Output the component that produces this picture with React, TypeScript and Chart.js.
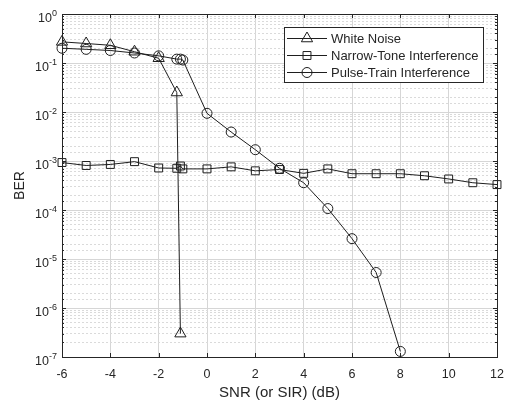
import React, { useEffect, useRef } from 'react';
import { Chart, registerables } from 'chart.js';
Chart.register(...registerables);

const seriesLabels = ['White Noise', 'Narrow-Tone Interference', 'Pulse-Train Interference'];
const snrWhite = [-6, -5, -4, -3, -2, -1.25, -1.1];
const berWhite = [0.27, 0.25, 0.23, 0.17, 0.125, 0.025, 3e-7];
const snrTone = [-6, -5, -4, -3, -2, -1.25, -1.1, -1, 0, 1, 2, 3, 4, 5, 6, 7, 8, 9, 10, 11, 12];
const berTone = [9.3e-4, 8.1e-4, 8.5e-4, 9.7e-4, 7.2e-4, 7.1e-4, 7.9e-4, 6.9e-4, 6.9e-4, 7.6e-4, 6.3e-4, 6.7e-4, 5.6e-4, 6.9e-4, 5.5e-4, 5.5e-4, 5.5e-4, 5.0e-4, 4.3e-4, 3.6e-4, 3.3e-4];
const snrPulse = [-6, -5, -4, -3, -2, -1.25, -1.1, -1, 0, 1, 2, 3, 4, 5, 6, 7, 8];
const berPulse = [0.2, 0.19, 0.18, 0.16, 0.14, 0.12, 0.12, 0.115, 0.0094, 0.0039, 0.0017, 7.1e-4, 3.6e-4, 1.07e-4, 2.6e-5, 5.3e-6, 1.3e-7];
const xTickStep = 2;
const xMin = -6;
const xMax = 12;
const yMin = 1e-7;
const yMax = 1;

const INK = '#262626';
const LINE = '#1e1e1e';
const FONT = '"Liberation Sans", Arial, sans-serif';

const isDecade = (v: number) => {
  const e = Math.log10(v);
  return Math.abs(e - Math.round(e)) < 1e-6;
};

function drawMarker(ctx: CanvasRenderingContext2D, style: string, x: number, y: number, r: number) {
  ctx.beginPath();
  if (style === 'triangle') {
    const w = r * Math.sqrt(3) / 2;
    ctx.moveTo(x, y - r);
    ctx.lineTo(x + w, y + r / 2);
    ctx.lineTo(x - w, y + r / 2);
    ctx.closePath();
  } else if (style === 'rect') {
    const s = r * Math.SQRT1_2;
    ctx.rect(x - s, y - s, 2 * s, 2 * s);
  } else {
    ctx.arc(x, y, r, 0, Math.PI * 2);
  }
  ctx.stroke();
}

const frameTicksPlugin = {
  id: 'frameTicks',
  afterDatasetsDraw(chart: any) {
    const { ctx, chartArea: a } = chart;
    const xs = chart.scales.x;
    const ys = chart.scales.y;
    ctx.save();
    ctx.strokeStyle = INK;
    ctx.lineWidth = 1;
    ctx.beginPath();
    xs.ticks.forEach((t: any) => {
      const px = Math.round(xs.getPixelForValue(t.value)) + 0.5;
      ctx.moveTo(px, a.bottom);
      ctx.lineTo(px, a.bottom - 4);
      ctx.moveTo(px, a.top);
      ctx.lineTo(px, a.top + 4);
    });
    ys.ticks.forEach((t: any) => {
      const py = Math.round(ys.getPixelForValue(t.value)) + 0.5;
      const len = isDecade(t.value) ? 4 : 2;
      ctx.moveTo(a.left, py);
      ctx.lineTo(a.left + len, py);
      ctx.moveTo(a.right, py);
      ctx.lineTo(a.right - len, py);
    });
    ctx.stroke();
    ctx.strokeRect(Math.round(a.left) + 0.5, Math.round(a.top) + 0.5, Math.round(a.right - a.left), Math.round(a.bottom - a.top));
    ctx.restore();
  },
};

const powerLabelsPlugin = {
  id: 'powerLabels',
  afterDraw(chart: any) {
    const { ctx } = chart;
    const ys = chart.scales.y;
    const right = ys.right - 5;
    ctx.save();
    ctx.fillStyle = INK;
    ctx.textBaseline = 'alphabetic';
    ctx.textAlign = 'left';
    ys.ticks.forEach((t: any) => {
      if (!isDecade(t.value)) return;
      const py = ys.getPixelForValue(t.value);
      const exp = String(Math.round(Math.log10(t.value)));
      ctx.font = `12.5px ${FONT}`;
      const wBase = ctx.measureText('10').width;
      ctx.font = `9px ${FONT}`;
      const wExp = ctx.measureText(exp).width;
      const x0 = right - wBase - wExp;
      ctx.font = `12.5px ${FONT}`;
      ctx.fillText('10', x0, py + 8);
      ctx.font = `9px ${FONT}`;
      ctx.fillText(exp, x0 + wBase, py + 1.5);
    });
    ctx.restore();
  },
};

const legendPlugin = {
  id: 'insideLegend',
  afterDraw(chart: any) {
    const { ctx } = chart;
    const bx = 284.5, by = 27.5, bw = 199, bh = 55;
    ctx.save();
    ctx.fillStyle = '#ffffff';
    ctx.fillRect(bx, by, bw, bh);
    ctx.strokeStyle = INK;
    ctx.lineWidth = 1;
    ctx.strokeRect(bx, by, bw, bh);
    const rows = [38.5, 55.5, 72.5];
    chart.data.datasets.forEach((ds: any, i: number) => {
      const y = rows[i];
      ctx.strokeStyle = LINE;
      ctx.lineWidth = 1;
      ctx.beginPath();
      ctx.moveTo(287, y);
      ctx.lineTo(327, y);
      ctx.stroke();
      drawMarker(ctx, ds.pointStyle, 307, y, ds.pointRadius);
      ctx.fillStyle = INK;
      ctx.font = `13px ${FONT}`;
      ctx.textBaseline = 'middle';
      ctx.textAlign = 'left';
      ctx.fillText(ds.label, 331, y + 0.5);
    });
    ctx.restore();
  },
};

function makePoints(xs: number[], ys: number[]) {
  return xs.map((x, i) => ({ x, y: ys[i] }));
}

export default function App() {
  const ref = useRef<HTMLCanvasElement>(null);
  useEffect(() => {
    if (!ref.current) return;
    const common = {
      showLine: true,
      borderColor: LINE,
      borderWidth: 1,
      pointBorderColor: LINE,
      pointBackgroundColor: 'rgba(0,0,0,0)',
      pointBorderWidth: 1,
      fill: false,
      tension: 0,
      clip: false as any,
    };
    const chart = new Chart(ref.current, {
      type: 'scatter',
      data: {
        datasets: [
          { ...common, label: seriesLabels[0], data: makePoints(snrWhite, berWhite), pointStyle: 'triangle', pointRadius: 6.5 },
          { ...common, label: seriesLabels[1], data: makePoints(snrTone, berTone), pointStyle: 'rect', pointRadius: 5.6 },
          { ...common, label: seriesLabels[2], data: makePoints(snrPulse, berPulse), pointStyle: 'circle', pointRadius: 5 },
        ],
      },
      options: {
        responsive: false,
        animation: false,
        layout: { padding: { top: 14, right: 8, left: 0, bottom: 0 } },
        plugins: { legend: { display: false }, tooltip: { enabled: false } },
        scales: {
          x: {
            type: 'linear',
            min: xMin,
            max: xMax,
            afterFit: (s: any) => { s.height = 46; },
            ticks: { stepSize: xTickStep, color: INK, padding: 1, font: { size: 12.5, family: FONT } },
            grid: { color: '#d6d6d6', lineWidth: 1, drawTicks: true, tickLength: 9, tickColor: 'rgba(0,0,0,0)' },
            border: { display: false },
            title: { display: true, text: 'SNR (or SIR) (dB)', color: INK, font: { size: 15, family: FONT }, padding: { top: 0, bottom: 1 } },
          },
          y: {
            type: 'logarithmic',
            min: yMin,
            max: yMax,
            afterFit: (s: any) => { s.width = 62; },
            ticks: {
              autoSkip: false,
              color: INK,
              padding: 5,
              font: { size: 12, family: FONT },
              callback: () => '',
            },
            grid: {
              drawTicks: false,
              lineWidth: 1,
              color: (c: any) => (c.tick && isDecade(c.tick.value) ? '#d6d6d6' : '#dadada'),
            },
            border: {
              display: false,
              dash: (c: any) => (c.tick && isDecade(c.tick.value) ? [] : [2, 2]),
            } as any,
            title: { display: true, text: 'BER', color: INK, font: { size: 14, family: FONT }, padding: { top: 11.5, bottom: 0 } },
          },
        },
      },
      plugins: [frameTicksPlugin, powerLabelsPlugin, legendPlugin],
    });
    return () => chart.destroy();
  }, []);
  return (
    <div style={{ position: 'absolute', left: 0, top: 0, width: 505, height: 403, background: '#fff' }}>
      <canvas ref={ref} width={505} height={403} style={{ display: 'block' }} />
    </div>
  );
}
